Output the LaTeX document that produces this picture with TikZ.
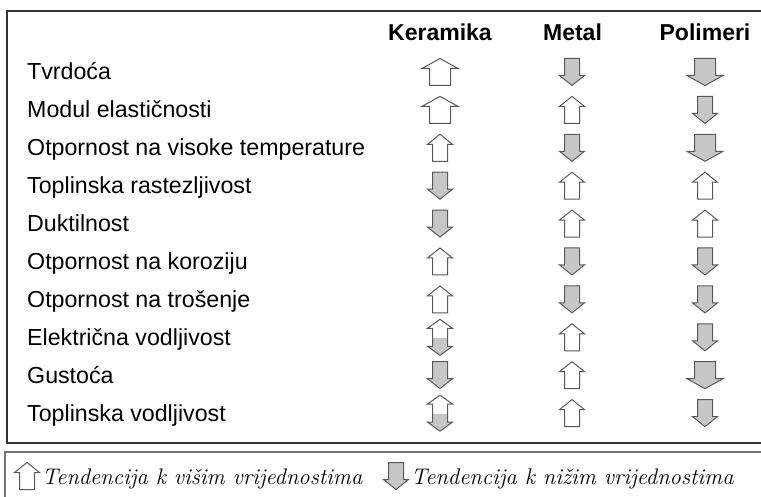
\documentclass[tikz,border=0pt]{standalone}
\usepackage{fontspec}
\newfontfamily\arialf{Liberation Sans}
\begin{document}
\begin{tikzpicture}[x=1pt,y=-1pt,
  frame/.style={draw=black!80,line width=1.2pt},
  legframe/.style={draw=black!55,line width=1.2pt},
  lab/.style={inner sep=0pt,anchor=base west,font=\arialf\fontsize{23.2}{28}\selectfont},
  head/.style={inner sep=0pt,anchor=base,font=\arialf\bfseries\fontsize{23}{28}\selectfont},
  leg/.style={inner sep=0pt,anchor=base west,font=\itshape\fontsize{22.6}{27}\selectfont},
  arr/.style={draw=black!65,line width=1.0pt,line join=miter},
  gfill/.style={fill=black!22},
  pics/aUp/.style={code={\draw[arr,fill=white] (0,-13.5) -- (12.5,-3.5) -- (7.5,-3.5) -- (7.5,13.5) -- (-7.5,13.5) -- (-7.5,-3.5) -- (-12.5,-3.5) -- cycle;}},
  pics/aDn/.style={code={\draw[arr,gfill] (0,13.5) -- (12.5,3.5) -- (7.5,3.5) -- (7.5,-13.5) -- (-7.5,-13.5) -- (-7.5,3.5) -- (-12.5,3.5) -- cycle;}},
  pics/aBigUp/.style={code={\draw[arr,fill=white] (0,-13.5) -- (18,-3.5) -- (10.5,-3.5) -- (10.5,13.5) -- (-10.5,13.5) -- (-10.5,-3.5) -- (-18,-3.5) -- cycle;}},
  pics/aBigDn/.style={code={\draw[arr,gfill] (0,13.5) -- (18,3.5) -- (10.5,3.5) -- (10.5,-13.5) -- (-10.5,-13.5) -- (-10.5,3.5) -- (-18,3.5) -- cycle;}},
  pics/aUpDn/.style={code={
    \begin{scope}
      \clip (0,-18) -- (12.5,-9) -- (7.5,-9) -- (7.5,9) -- (12.5,9) -- (0,18) -- (-12.5,9) -- (-7.5,9) -- (-7.5,-9) -- (-12.5,-9) -- cycle;
      \fill[white] (-14,-19) rectangle (14,0.5);
      \fill[black!22] (-14,0.5) rectangle (14,19);
    \end{scope}
    \draw[arr] (0,-18) -- (12.5,-9) -- (7.5,-9) -- (7.5,9) -- (12.5,9) -- (0,18) -- (-12.5,9) -- (-7.5,9) -- (-7.5,-9) -- (-12.5,-9) -- cycle;}}
]
\useasboundingbox (0,0) rectangle (761,497);
\fill[white] (0,0) rectangle (761,497);
% frames
\draw[frame] (761,11) -- (7,11) -- (7,443) -- (761,443);
\draw[legframe] (761,452) -- (5,452) -- (5,497);
% headers
\node[head] (hk) at (440,40.5) {Keramika};
\node[head] (hm) at (572.5,40.5) {Metal};
\node[head] (hp) at (705,40.5) {Polimeri};
% row labels
\foreach \t [count=\i from 0] in {Tvrdoća,Modul elastičnosti,Otpornost na visoke temperature,Toplinska rastezljivost,Duktilnost,Otpornost na koroziju,Otpornost na trošenje,Električna vodljivost,Gustoća,Toplinska vodljivost}
  \node[lab] (l\i) at (27,80+37.9*\i) {\t};
% arrows
\foreach \a/\b/\c [count=\i from 0] in {aBigUp/aDn/aBigDn,aBigUp/aUp/aDn,aUp/aDn/aBigDn,aDn/aUp/aUp,aDn/aUp/aUp,aUp/aDn/aDn,aUp/aDn/aDn,aUpDn/aUp/aDn,aDn/aUp/aBigDn,aUpDn/aUp/aDn}{
  \coordinate (k\i) at (440,72+37.9*\i);
  \coordinate (m\i) at (572,72+37.9*\i);
  \coordinate (p\i) at (705,72+37.9*\i);
  \pic at (k\i) {\a};
  \pic at (m\i) {\b};
  \pic at (p\i) {\c};
}
% legend
\coordinate (lu) at (27,476);
\coordinate (ld) at (396,476);
\pic at (lu) {aUp};
\pic at (ld) {aDn};
\node[leg] (t1) at (42,484) {Tendencija k višim vrijednostima};
\node[leg] (t2) at (411,484) {Tendencija k nižim vrijednostima};
\end{tikzpicture}
\end{document}
